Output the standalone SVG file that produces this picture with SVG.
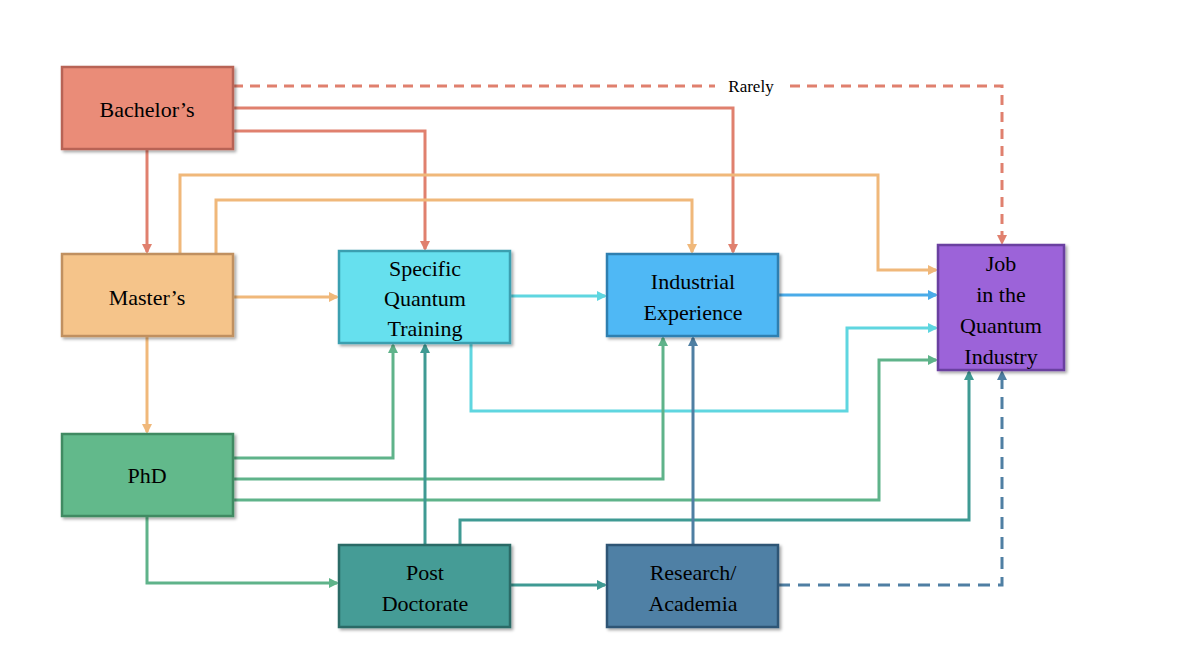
<svg xmlns="http://www.w3.org/2000/svg" width="1200" height="658" viewBox="0 0 1200 658">
<style>
.b{stroke-width:2.5;filter:url(#sh)}
.t{font-family:"Liberation Serif",serif;font-size:22px;text-anchor:middle;fill:#000}
.c{fill:none;stroke-width:3}
</style>
<defs>
<filter id="sh" x="-10%" y="-10%" width="130%" height="130%"><feDropShadow dx="2" dy="2" stdDeviation="1.5" flood-opacity="0.35"/></filter>
<marker id="aS" markerWidth="10" markerHeight="10" refX="8" refY="5" orient="auto" markerUnits="userSpaceOnUse"><path d="M0,0L10,5L0,10z" fill="#e0806e"/></marker>
<marker id="aO" markerWidth="10" markerHeight="10" refX="8" refY="5" orient="auto" markerUnits="userSpaceOnUse"><path d="M0,0L10,5L0,10z" fill="#f0b87a"/></marker>
<marker id="aG" markerWidth="10" markerHeight="10" refX="8" refY="5" orient="auto" markerUnits="userSpaceOnUse"><path d="M0,0L10,5L0,10z" fill="#5fb38a"/></marker>
<marker id="aT" markerWidth="10" markerHeight="10" refX="8" refY="5" orient="auto" markerUnits="userSpaceOnUse"><path d="M0,0L10,5L0,10z" fill="#3f9a93"/></marker>
<marker id="aC" markerWidth="10" markerHeight="10" refX="8" refY="5" orient="auto" markerUnits="userSpaceOnUse"><path d="M0,0L10,5L0,10z" fill="#5fd6e0"/></marker>
<marker id="aB" markerWidth="10" markerHeight="10" refX="8" refY="5" orient="auto" markerUnits="userSpaceOnUse"><path d="M0,0L10,5L0,10z" fill="#4aabe8"/></marker>
<marker id="aD" markerWidth="10" markerHeight="10" refX="8" refY="5" orient="auto" markerUnits="userSpaceOnUse"><path d="M0,0L10,5L0,10z" fill="#4f7fa3"/></marker>
</defs>
<rect width="1200" height="658" fill="#fff"/>
<g id="connectors">
<path class="c" stroke="#e0806e" stroke-width="2" stroke-dasharray="10,7" d="M233,86H715M790,86H1002V243" marker-end="url(#aS)"/>
<path class="c" stroke="#e0806e" d="M233,108H733V252" marker-end="url(#aS)"/>
<path class="c" stroke="#e0806e" d="M233,131H425V249" marker-end="url(#aS)"/>
<path class="c" stroke="#e0806e" d="M147,149V252" marker-end="url(#aS)"/>
<path class="c" stroke="#f0b87a" d="M180,254V175H878V270H936" marker-end="url(#aO)"/>
<path class="c" stroke="#f0b87a" d="M216,254V200H692V252" marker-end="url(#aO)"/>
<path class="c" stroke="#f0b87a" d="M233,297H337" marker-end="url(#aO)"/>
<path class="c" stroke="#f0b87a" d="M147,336V432" marker-end="url(#aO)"/>
<path class="c" stroke="#5fd6e0" d="M510,296H605" marker-end="url(#aC)"/>
<path class="c" stroke="#4aabe8" d="M778,295H936" marker-end="url(#aB)"/>
<path class="c" stroke="#5fd6e0" d="M471,343V411H847V328H936" marker-end="url(#aC)"/>
<path class="c" stroke="#5fb38a" d="M233,458H393V345" marker-end="url(#aG)"/>
<path class="c" stroke="#5fb38a" d="M233,479H663V338" marker-end="url(#aG)"/>
<path class="c" stroke="#5fb38a" d="M233,500H879V360H936" marker-end="url(#aG)"/>
<path class="c" stroke="#5fb38a" d="M147,516V583H337" marker-end="url(#aG)"/>
<path class="c" stroke="#3f9a93" d="M425,545V345" marker-end="url(#aT)"/>
<path class="c" stroke="#3f9a93" d="M460,545V520H969V372" marker-end="url(#aT)"/>
<path class="c" stroke="#3f9a93" d="M510,585H605" marker-end="url(#aT)"/>
<path class="c" stroke="#4f7fa3" d="M693,545V338" marker-end="url(#aD)"/>
<path class="c" stroke="#4f7fa3" stroke-dasharray="12,8" d="M778,585H1002V372" marker-end="url(#aD)"/>
<text x="751" y="92" style="font-family:'Liberation Serif',serif;font-size:17px;text-anchor:middle">Rarely</text>
</g>
<g id="bachelors"><rect class="b" x="62" y="67" width="171" height="82" fill="#ea8c78" stroke="#b86454"/><text class="t" x="147" y="117">Bachelor’s</text></g>
<g id="masters"><rect class="b" x="62" y="254" width="171" height="82" fill="#f5c48a" stroke="#c09060"/><text class="t" x="147" y="305">Master’s</text></g>
<g id="phd"><rect class="b" x="62" y="434" width="171" height="82" fill="#62b98b" stroke="#3f8a62"/><text class="t" x="147" y="483">PhD</text></g>
<g id="sqt"><rect class="b" x="339" y="251" width="171" height="92" fill="#66e0ee" stroke="#3a9fb0"/><text class="t" x="425" y="276">Specific</text><text class="t" x="425" y="306">Quantum</text><text class="t" x="425" y="336">Training</text></g>
<g id="industrial"><rect class="b" x="607" y="254" width="171" height="82" fill="#4fb8f5" stroke="#2f7fb0"/><text class="t" x="693" y="289">Industrial</text><text class="t" x="693" y="320">Experience</text></g>
<g id="job"><rect class="b" x="938" y="245" width="126" height="125" fill="#9c64d9" stroke="#6a3fa0"/><text class="t" x="1001" y="271">Job</text><text class="t" x="1001" y="302">in the</text><text class="t" x="1001" y="333">Quantum</text><text class="t" x="1001" y="364">Industry</text></g>
<g id="postdoc"><rect class="b" x="339" y="545" width="171" height="82" fill="#459c96" stroke="#2a6a66"/><text class="t" x="425" y="580">Post</text><text class="t" x="425" y="611">Doctorate</text></g>
<g id="research"><rect class="b" x="607" y="545" width="171" height="82" fill="#4f80a5" stroke="#2f5575"/><text class="t" x="693" y="580">Research/</text><text class="t" x="693" y="611">Academia</text></g>
</svg>
